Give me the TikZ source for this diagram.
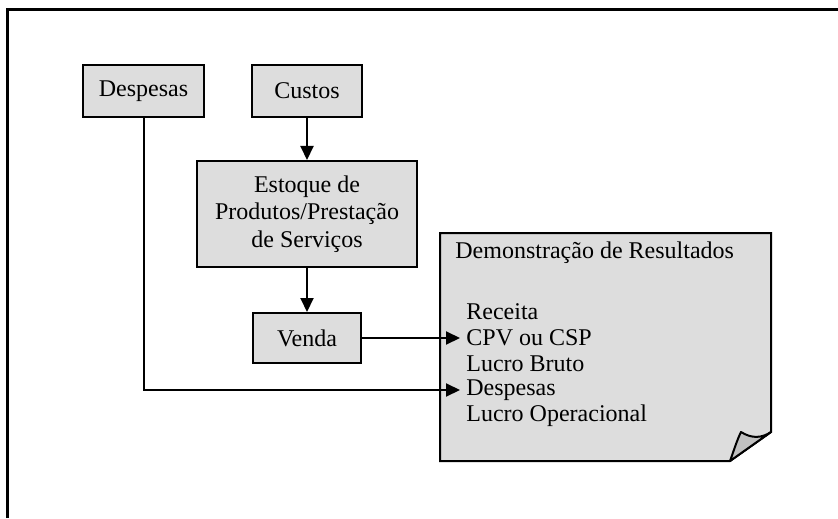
\documentclass[tikz,border=0pt]{standalone}
\usepackage{fontspec}
\setmainfont{Liberation Serif}
\usetikzlibrary{fit,arrows.meta}

\definecolor{boxgray}{HTML}{DDDDDD}
\definecolor{foldgray}{HTML}{C0C0C0}

\begin{document}
\begin{tikzpicture}[x=0.5pt, y=-0.5pt, font=\fontsize{12}{13.8}\selectfont,
    box/.style={draw, fill=boxgray, line width=1pt, inner sep=0pt},
    flow/.style={-{Triangle[length=7pt,width=6.5pt]}, line width=1pt},
    item/.style={anchor=west, inner sep=3pt}]
    \useasboundingbox (0,0) rectangle (838,518);
    \draw[line width=1.5pt] (7,518) -- (7,10) -- (838,10);

    \node[box, fit={(83,65) (204,117)}, label=center:{Despesas}] (desp) {};
    \node[box, fit={(252,65) (362,117)}, label=center:{Custos}] (cust) {};
    \node[box, fit={(197,161) (417,267)},
        label={[align=center]center:{Estoque de\\Produtos/Prestação\\de Serviços}}] (est) {};
    \node[box, fit={(253,313) (361,363)}, label=center:{Venda}] (venda) {};

    % demonstracao com canto dobrado
    \filldraw[fill=boxgray, line width=1pt] (440,233) -- (771,233) -- (771,432) -- (730,461) -- (440,461) -- cycle;
    \filldraw[fill=foldgray, line width=1pt, line join=round] (730,461) .. controls (734,450) and (737,440) .. (741,432)
        .. controls (752,439) and (762,438) .. (771,432) -- cycle;

    \node[anchor=west, inner sep=0pt] (titulo) at (455,253) {Demonstração de Resultados};
    \node[item] (rec) at (460,312) {Receita};
    \node[item] (cpv) at (460,338) {CPV ou CSP};
    \node[item] (lb) at (460,364) {Lucro Bruto};
    \node[item] (dsp) at (460,390) {Despesas};
    \node[item] (lo) at (460,416) {Lucro Operacional};

    \draw[flow] (cust) -- (est);
    \draw[flow] (est) -- (venda);
    \draw[flow] (venda) -- (cpv.west);
    \draw[flow] (desp) |- (dsp.west);
\end{tikzpicture}
\end{document}
